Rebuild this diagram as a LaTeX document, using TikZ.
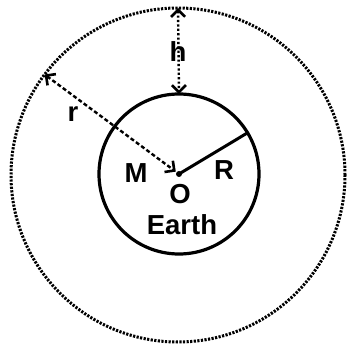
\documentclass[tikz,border=0pt]{standalone}
\usepackage{fontspec}
\setmainfont{Liberation Sans}
\usetikzlibrary{arrows.meta}
\begin{document}
\begin{tikzpicture}[x=1pt,y=-1pt,
  lbl/.style={font=\fontsize{27.5}{30}\selectfont\bfseries, inner sep=0pt},
  dbarb/.style={{Straight Barb[length=7pt,width=14pt,line width=2.6pt]}-{Straight Barb[length=7pt,width=14pt,line width=2.6pt]}}]
\useasboundingbox (0,0) rectangle (350,347);
\node[circle, draw, line width=3pt, dash pattern=on 2.2pt off 1.4pt, minimum size=334pt, inner sep=0pt, outer sep=0pt] (orbit) at (178,175) {};
\node[circle, draw, line width=3.2pt, minimum size=160pt, inner sep=0pt, outer sep=0pt] (earth) at (179,174) {};
\node[circle, fill, minimum size=6pt, inner sep=0pt] (O) at (179,174) {};
\draw[line width=3pt] (O.center) -- (earth.31);
\draw[dbarb, line width=2.4pt, dash pattern=on 4pt off 2.5pt, shorten >=4pt] (orbit.143) -- (O.center);
\draw[dbarb, line width=2.4pt, dash pattern=on 2.2pt off 2.2pt] (orbit.90) -- (earth.90);
\node[lbl] (hl) at (178,52) {h};
\node[lbl] (rl) at (73,114) {r};
\node[lbl] (Ml) at (136,173) {M};
\node[lbl] (Rl) at (224,170) {R};
\node[lbl] (Ol) at (180,194) {O};
\node[lbl] (El) at (182,225) {Earth};
\end{tikzpicture}
\end{document}
